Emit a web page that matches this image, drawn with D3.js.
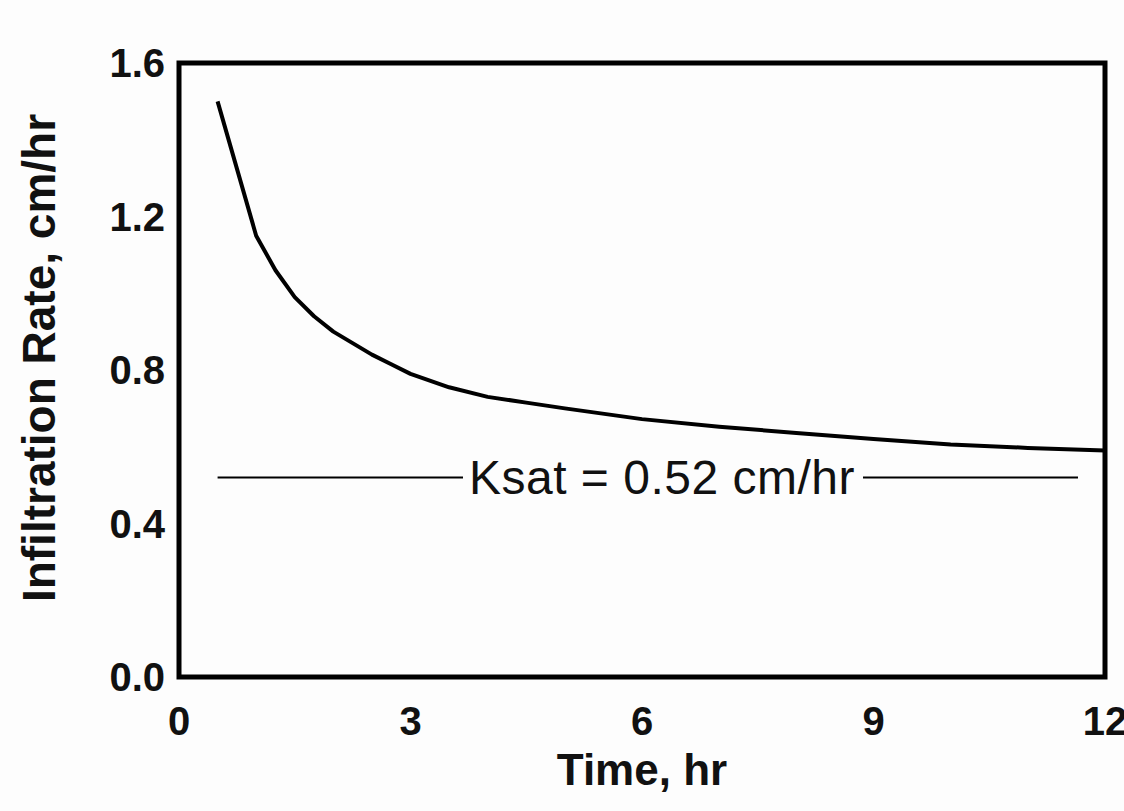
<!DOCTYPE html>
<html lang="en">
<head>
<meta charset="UTF-8">
<title>Infiltration Rate vs Time</title>
<script src="https://cdnjs.cloudflare.com/ajax/libs/d3/7.8.5/d3.min.js"></script>
<style>
  body { margin: 0; background: #fdfdfd; }
  svg { display: block; font-family: "Liberation Sans", Arial, sans-serif; }
  .tick-label { font-size: 40px; font-weight: bold; fill: #111; }
  .axis-title { font-size: 44px; font-weight: bold; fill: #111; }
  .y-title { font-size: 46px; }
  .ksat-label { font-size: 48px; fill: #111; letter-spacing: 0.5px; }
</style>
</head>
<body>
<svg id="chart" width="1124" height="811"></svg>
<script>
// infiltration curve
const timeHr   = [0.5, 1.0, 1.25, 1.5, 1.75, 2.0, 2.25, 2.5, 2.75, 3.0, 3.5, 4.0, 4.5, 5.0, 6.0, 7.0, 8.0, 9.0, 10.0, 11.0, 12.0];
const rateCmHr = [1.50, 1.15, 1.06, 0.99, 0.94, 0.90, 0.87, 0.84, 0.815, 0.79, 0.755, 0.73, 0.715, 0.70, 0.672, 0.652, 0.636, 0.62, 0.606, 0.597, 0.59];

const ksat = 0.52;
const ksatSpan = [0.5, 11.65];
const ksatText = "Ksat = 0.52 cm/hr";

const xTicks = [0, 3, 6, 9, 12];
const yTicks = [0.0, 0.4, 0.8, 1.2, 1.6];

const svg = d3.select("#chart");
const plotL = 179, plotR = 1105, plotT = 63, plotB = 677;

const x = d3.scaleLinear().domain([0, 12]).range([plotL, plotR]);
const y = d3.scaleLinear().domain([0, 1.6]).range([plotB, plotT]);

// frame
svg.append("rect")
    .attr("x", plotL).attr("y", plotT)
    .attr("width", plotR - plotL).attr("height", plotB - plotT)
    .attr("fill", "none").attr("stroke", "#000").attr("stroke-width", 5);

// tick labels (no tick marks in the original)
svg.selectAll(".xt").data(xTicks).enter().append("text")
    .attr("class", "tick-label")
    .attr("x", d => x(d)).attr("y", plotB + 58)
    .attr("text-anchor", "middle")
    .text(d => d);

svg.selectAll(".yt").data(yTicks).enter().append("text")
    .attr("class", "tick-label")
    .attr("x", plotL - 14).attr("y", d => y(d) + 14)
    .attr("text-anchor", "end")
    .text(d => d.toFixed(1));

// axis titles
svg.append("text")
    .attr("class", "axis-title")
    .attr("x", (plotL + plotR) / 2).attr("y", plotB + 108)
    .attr("text-anchor", "middle")
    .text("Time, hr");

svg.append("text")
    .attr("class", "axis-title y-title")
    .attr("transform", `translate(55, ${(plotT + plotB) / 2 - 12}) rotate(-90)`)
    .attr("text-anchor", "middle")
    .text("Infiltration Rate, cm/hr");

// curve
const line = d3.line().x(d => x(d[0])).y(d => y(d[1]));
svg.append("path")
    .datum(d3.zip(timeHr, rateCmHr))
    .attr("d", line)
    .attr("fill", "none").attr("stroke", "#000").attr("stroke-width", 4)
    .attr("stroke-linejoin", "round");

// Ksat reference line with label in a gap
const label = svg.append("text")
    .attr("class", "ksat-label")
    .attr("x", 662).attr("y", y(ksat) + 17)
    .attr("text-anchor", "middle")
    .text(ksatText);
const bb = label.node().getBBox();

svg.append("line")
    .attr("x1", x(ksatSpan[0])).attr("x2", bb.x - 6)
    .attr("y1", y(ksat)).attr("y2", y(ksat))
    .attr("stroke", "#000").attr("stroke-width", 2);
svg.append("line")
    .attr("x1", bb.x + bb.width + 8).attr("x2", x(ksatSpan[1]))
    .attr("y1", y(ksat)).attr("y2", y(ksat))
    .attr("stroke", "#000").attr("stroke-width", 2);
</script>
</body>
</html>
